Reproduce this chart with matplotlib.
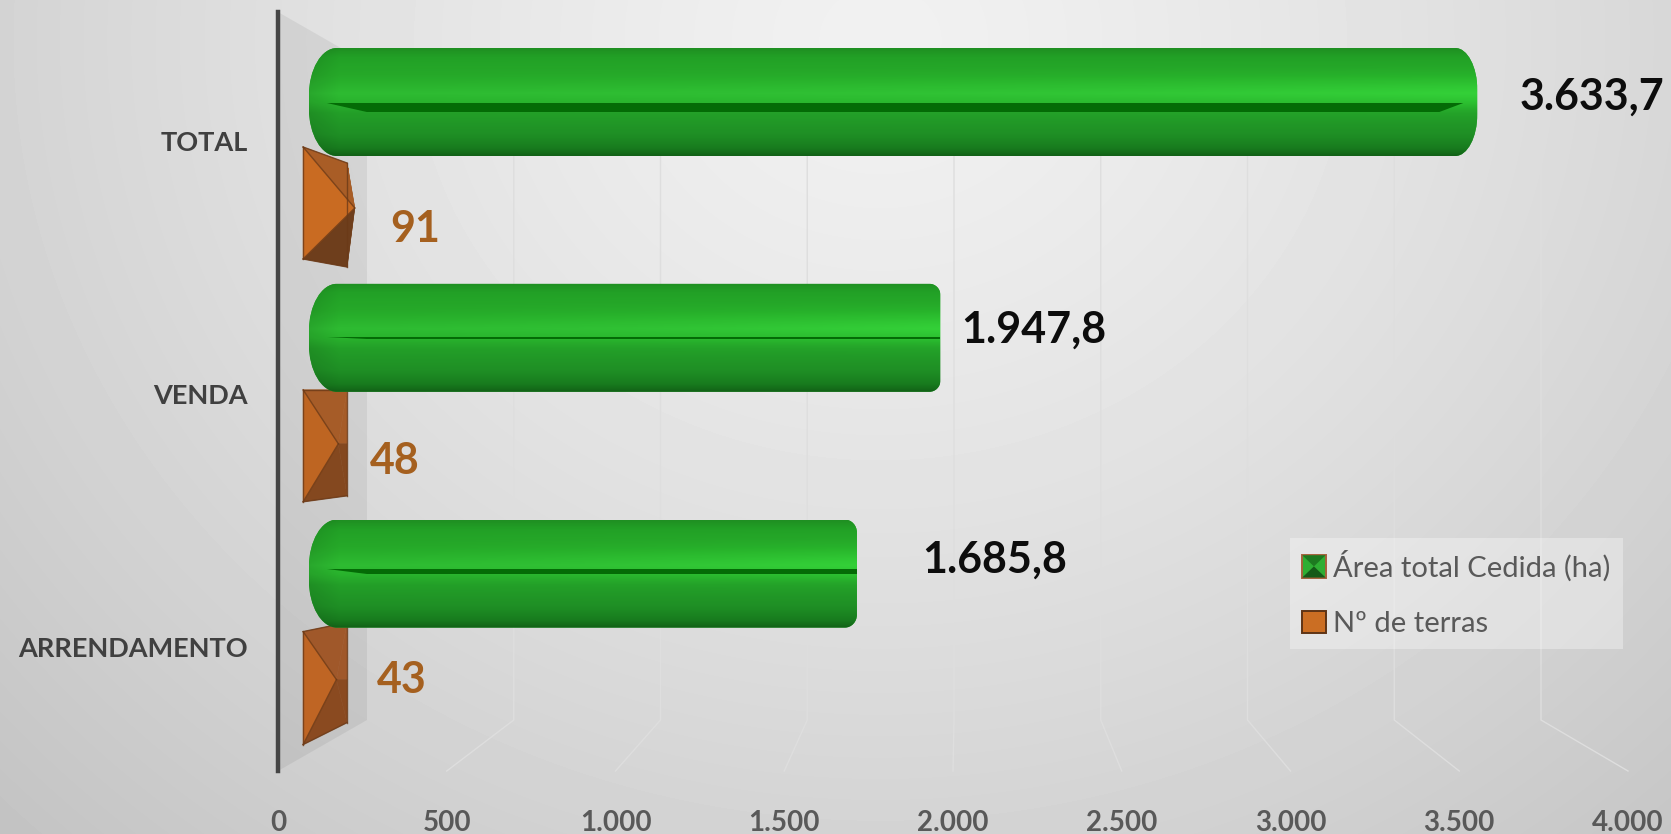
import numpy as np
import matplotlib
matplotlib.use("Agg")
import matplotlib.pyplot as plt
from matplotlib.path import Path
from matplotlib.patches import PathPatch, Patch, Polygon, Rectangle
from matplotlib.colors import LinearSegmentedColormap
from matplotlib.legend_handler import HandlerPatch
from matplotlib.ticker import FuncFormatter

plt.rcParams['font.family'] = ['Lato', 'DejaVu Sans']

# ---- data ----
categories = ["TOTAL", "VENDA", "ARRENDAMENTO"]
area_ha = [3633.7, 1947.8, 1685.8]
n_terras = [91, 48, 43]
area_labels = ["3.633,7", "1.947,8", "1.685,8"]
terras_labels = ["91", "48", "43"]
x_ticks = [0, 500, 1000, 1500, 2000, 2500, 3000, 3500, 4000]
series_names = ["Área total Cedida (ha)", "Nº de terras"]

# ---- layout (pixels of the 1671x834 canvas) ----
W, H = 1671, 834
FRONT_X0, FRONT_X1 = 278, 1628
FRONT_TOP, FRONT_BOT = 12, 771
BACK_X0, BACK_X1 = 367, 1541
BACK_TOP, BACK_BOT = 63, 720
MID_X0, MID_SCALE = 320.0, 0.3185
CAT_Y0, CAT_STEP = 155.0, 235.8

fig = plt.figure(figsize=(W / 100, H / 100), dpi=100)

# background
bg = fig.add_axes([0, 0, 1, 1], zorder=0)
yy, xx = np.mgrid[0:H, 0:W]
d = np.hypot(xx - 880, (yy - 40) / 0.9)
val = np.clip(0.945 - 0.136 * (d / 1000) ** 1.3, 0, 1)
bg.imshow(val, cmap="gray", vmin=0, vmax=1, aspect="auto", extent=(0, W, H, 0))
bg.axis("off")

# front axes: value axis, category axis, wall and grid
axF = fig.add_axes([FRONT_X0 / W, 1 - FRONT_BOT / H, (FRONT_X1 - FRONT_X0) / W,
                    (FRONT_BOT - FRONT_TOP) / H], zorder=1)
axF.patch.set_alpha(0)
axF.set_xlim(0, 4000)
axF.set_ylim(2.5, -0.5)
for s in ("top", "right", "bottom"):
    axF.spines[s].set_visible(False)
axF.spines["left"].set_linewidth(3.2)
axF.spines["left"].set_color("#454545")
axF.spines["left"].set_zorder(5)
axF.set_xticks(x_ticks)
axF.xaxis.set_major_formatter(FuncFormatter(lambda v, _: f"{int(v):,}".replace(",", ".")))
axF.set_yticks([i + 0.01 for i in range(len(categories))], categories)
axF.tick_params(axis="x", length=0, pad=28, labelsize=20, labelcolor="#595959")
axF.tick_params(axis="y", length=0, pad=22, labelsize=19.5, labelcolor="#404040")
for t in axF.get_xticklabels() + axF.get_yticklabels():
    t.set_fontweight("bold")

fx = lambda p: (p - FRONT_X0) / ((FRONT_X1 - FRONT_X0) / 4000)
fy = lambda p: (p - FRONT_TOP) / ((FRONT_BOT - FRONT_TOP) / 3) - 0.5
back = lambda v: fx(BACK_X0 + v * (BACK_X1 - BACK_X0) / 4000)

axF.add_patch(Polygon([(0, -0.5), (fx(BACK_X0), fy(BACK_TOP)), (fx(BACK_X0), fy(BACK_BOT)),
                       (0, 2.5)], closed=True, fc="black", ec="none", alpha=0.06, zorder=1))
for v in x_ticks[1:]:
    axF.plot([back(v), back(v), v], [fy(BACK_TOP), fy(BACK_BOT), 2.5], color="#dedede", lw=1,
             solid_joinstyle="miter", zorder=2, clip_on=False)

# bars axes: mid-depth plane of the 3D chart
axB = fig.add_axes([0, 0, 1, 1], zorder=2)
axB.patch.set_alpha(0)
xlim = (-MID_X0 / MID_SCALE, (W - MID_X0) / MID_SCALE)
ylim = ((H - CAT_Y0) / CAT_STEP, -CAT_Y0 / CAT_STEP)
axB.axis("off")

PX = 1 / MID_SCALE     # one pixel in value units
PY = 1 / CAT_STEP      # one pixel in category units

# --- orange truncated pyramids ---
TERRA_LEFT, TERRA_RIGHT = -53, 85
TERRA_SHAPE = [(-61, 51, -45, 59), (-54, 58, -54, 52), (-48, 65, -57, 43)]
TERRA_COLORS = [("#C96B22", "#A95D26", "#6E3E1C"),
                ("#BE6522", "#A65C28", "#84481F"),
                ("#BF6524", "#A0582A", "#8A4A20")]
for i, v in enumerate(n_terras):
    c = i + 53 * PY
    axB.barh(c, v - TERRA_LEFT, left=TERRA_LEFT, height=80 * PY, color=TERRA_COLORS[i][0], zorder=2)
    tl, bl, tr, br = TERRA_SHAPE[i]
    A = (v * 1.2, c)
    M = (TERRA_RIGHT, c)
    TL, BL = (TERRA_LEFT, c + tl * PY), (TERRA_LEFT, c + bl * PY)
    TR, BR = (TERRA_RIGHT, c + tr * PY), (TERRA_RIGHT, c + br * PY)
    light, top, low = TERRA_COLORS[i]
    faces = [(TR, A, M), (BR, A, M), (TL, TR, A), (BL, BR, A), (TL, BL, A)]
    cols = [top, low, top, low, light]
    if v > TERRA_RIGHT:          # the tip stands beyond the rim: darker sliver faces
        cols[0], cols[1] = "#8E4E1C", "#743C12"
    for f, col in zip(faces, cols):
        axB.add_patch(Polygon(f, closed=True, fc=col, ec=col, lw=0.4, zorder=3))
    for a_, b_ in ((TL, A), (BL, A), (TL, TR), (TR, BR), (BR, BL), (BL, TL)):
        axB.plot([a_[0], b_[0]], [a_[1], b_[1]], color="#6b3a18", lw=1.0, alpha=0.8, zorder=3.2)
    axB.text(v + [41, 35, 43][i] * PX, c + [21, 17, 0][i] * PY, terras_labels[i], color="#A5601F",
             fontsize=31, fontweight="bold", va="center", ha="left", zorder=6)

# --- green rounded cylinders ---
GREEN_LEFT = -35
LEFT_CAP = (28, 48)
RIGHT_CAPS = [(22, 42), (11, 11), (12, 13)]
LINE_T = [(55, 64), (53.4, 54.8), (49, 54)]      # dark mid line, pixels below bar top
LINE_END = [14, 0, 0]
LABEL_DX = [42, 21, 65]
LABEL_DY = [-5, -8, -14]
GREEN_H = 108
K = 0.5523
green_map = LinearSegmentedColormap.from_list("g", [
    (0.0, "#1f8f22"), (0.08, "#22a026"), (0.25, "#26aa29"), (0.42, "#2fbc33"),
    (0.50, "#2ab42e"), (0.60, "#239f28"), (0.80, "#1f8f25"), (0.93, "#187a1e"), (1.0, "#125f17")])


def rounded(x0, x1, y0, y1, lc, rc):
    lx, ly = lc[0] * PX, lc[1] * PY
    rx, ry = rc[0] * PX, rc[1] * PY
    v = [(x0 + lx, y0), (x1 - rx, y0),
         (x1 - rx * (1 - K), y0), (x1, y0 + ry * (1 - K)), (x1, y0 + ry),
         (x1, y1 - ry),
         (x1, y1 - ry * (1 - K)), (x1 - rx * (1 - K), y1), (x1 - rx, y1),
         (x0 + lx, y1),
         (x0 + lx * (1 - K), y1), (x0, y1 - ly * (1 - K)), (x0, y1 - ly),
         (x0, y0 + ly),
         (x0, y0 + ly * (1 - K)), (x0 + lx * (1 - K), y0), (x0 + lx, y0), (x0 + lx, y0)]
    codes = [Path.MOVETO, Path.LINETO, Path.CURVE4, Path.CURVE4, Path.CURVE4, Path.LINETO,
             Path.CURVE4, Path.CURVE4, Path.CURVE4, Path.LINETO, Path.CURVE4, Path.CURVE4,
             Path.CURVE4, Path.LINETO, Path.CURVE4, Path.CURVE4, Path.CURVE4, Path.CLOSEPOLY]
    return Path(v, codes)


for i, v in enumerate(area_ha):
    cy = i - 53 * PY
    y0, y1 = cy - GREEN_H / 2 * PY, cy + GREEN_H / 2 * PY
    path = rounded(GREEN_LEFT, v, y0, y1, LEFT_CAP, RIGHT_CAPS[i])
    clip = PathPatch(path, fc="none", ec="none", transform=axB.transData)
    axB.add_patch(clip)
    bars = axB.barh(cy, v - GREEN_LEFT, left=GREEN_LEFT, height=GREEN_H * PY, color="#26a52a", zorder=4)
    bars[0].set_clip_path(clip)
    t = np.linspace(0, 1, 220)
    npx = int((v - GREEN_LEFT) / PX)
    u = np.linspace(0, 1, max(npx // 2, 2))
    base = green_map(t)[:, :3]
    img = np.repeat(base[:, None, :], len(u), axis=1)
    glow = np.exp(-((t - 0.40) / 0.17) ** 2)[:, None] * (0.12 * u[None, :] ** 1.5)
    img = np.clip(img * (1 + glow[:, :, None]), 0, 1)
    # cap shading
    xpx = u * npx
    edge = np.clip(xpx / 30, 0, 1)[None, :, None]
    img = img * (0.90 + 0.10 * edge)
    rgba = np.dstack([img, np.full(img.shape[:2], 0.965)])
    im = axB.imshow(rgba, extent=(GREEN_LEFT, v, y1, y0), aspect="auto", zorder=4.5,
                    interpolation="bilinear")
    im.set_clip_path(clip)
    a, b = LINE_T[i]
    ly0, ly1 = y0 + a * PY, y0 + b * PY
    xs = GREEN_LEFT + 18 * PX
    xe = v - LINE_END[i] * PX
    tap = 40 * PX
    line_pts = [(xs, ly0), (xe, ly0)]
    line_pts += [(xe - tap * 0.6, ly1)] if LINE_END[i] else [(xe, ly1)]
    line_pts += [(xs + tap, ly1)]
    axB.add_patch(Polygon(line_pts, closed=True, fc="#046b06", ec="none", zorder=5))
    axB.text(v + LABEL_DX[i] * PX, cy + LABEL_DY[i] * PY, area_labels[i], color="#0d0d0d",
             fontsize=31, fontweight="bold", va="center", ha="left", zorder=6)

axB.set_xlim(*xlim)
axB.set_ylim(*ylim)


# --- legend ---
class PyramidHandler(HandlerPatch):
    def create_artists(self, legend, orig, xd, yd, w, h, fs, trans):
        r = Rectangle((-xd, -yd), w, h, fc="#2fae33", ec="#a5623c", lw=1.4, transform=trans)
        cx, cy = -xd + w / 2, -yd + h / 2
        tl, tr, br, bl = (-xd, -yd + h), (-xd + w, -yd + h), (-xd + w, -yd), (-xd, -yd)
        f1 = Polygon([tl, tr, (cx, cy)], fc="#1d7a20", ec="none", transform=trans)
        f2 = Polygon([bl, br, (cx, cy)], fc="#155a18", ec="none", transform=trans)
        return [r, f1, f2]


h1 = Patch(fc="#2fae33", ec="#a5623c", label=series_names[0])
h2 = Patch(fc="#CB6E23", ec="#5f3415", lw=1.4, label=series_names[1])
leg = axB.legend(handles=[h1, h2], handler_map={h1: PyramidHandler()},
                 loc="upper left", bbox_to_anchor=(1290 / W, 1 - 538 / H), bbox_transform=fig.transFigure,
                 frameon=True, facecolor="white", edgecolor="none", framealpha=0.33, fancybox=False,
                 prop={"size": 21}, labelcolor="#595959", handlelength=0.8, handleheight=0.8,
                 handletextpad=0.27, labelspacing=1.0, borderpad=0.42, borderaxespad=0)
leg.set_zorder(7)

fig.savefig("out.png", dpi=100)
